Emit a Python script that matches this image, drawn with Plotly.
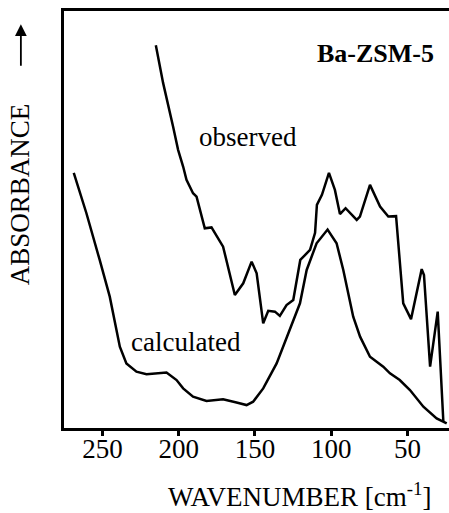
import plotly.graph_objects as go

# Data (wavenumber in cm^-1, absorbance in arbitrary units)
calc_wn = [268.8, 260.5, 251.8, 245.2, 238.6, 234.3, 227.7, 221.1, 208.0, 201.4, 197.1,
           190.6, 181.8, 170.9, 162.1, 155.5, 151.2, 144.6, 135.8, 127.1, 120.5, 116.1,
           109.6, 102.4, 96.5, 92.1, 85.6, 81.1, 74.6, 65.9, 61.5, 55.1, 48.4, 39.6,
           30.9, 24.3]
calc_ab = [61.2, 51.5, 40.3, 31.5, 19.5, 15.5, 13.5, 12.9, 13.3, 11.5, 9.5,
           7.5, 6.5, 6.9, 6.1, 5.5, 6.3, 9.5, 15.5, 23.5, 29.9, 37.9,
           44.3, 47.6, 44.3, 37.9, 26.7, 21.9, 17.1, 14.7, 13.1, 11.5, 9.1, 5.1,
           2.3, 1.1]

obs_wn = [215.0, 210.2, 203.7, 200.4, 197.1, 194.9, 190.6, 188.3, 182.9, 178.5, 170.9,
          163.2, 157.7, 152.2, 148.9, 144.6, 141.3, 136.9, 133.7, 129.3, 124.9, 120.3,
          113.9, 110.6, 109.4, 106.1, 101.5, 97.6, 94.3, 90.6, 83.3, 81.2, 74.6, 68.0,
          62.6, 57.5, 52.8, 47.7, 40.7, 39.2, 35.2, 30.2, 26.5]
obs_ab = [91.8, 82.7, 72.3, 66.7, 62.7, 59.5, 56.3, 55.5, 47.9, 48.1, 43.5,
          31.9, 34.7, 39.9, 37.1, 25.1, 28.1, 27.9, 26.9, 29.5, 30.7, 40.3,
          42.7, 46.8, 53.5, 55.9, 61.2, 57.1, 51.3, 52.7, 49.9, 50.7, 58.3, 53.1,
          50.7, 50.8, 29.9, 26.1, 38.1, 36.7, 14.7, 27.9, 1.5]

tick_vals = [250, 200, 150, 100, 50]
tick_text = ["250", "200", "150", "100", "50"]

FONT = "Liberation Serif, Times New Roman, serif"
LINE = dict(color="black", width=2.5)
FS = 27

fig = go.Figure()
fig.add_trace(go.Scatter(x=calc_wn, y=calc_ab, mode="lines", line=LINE,
                         showlegend=False, hoverinfo="skip"))
fig.add_trace(go.Scatter(x=obs_wn, y=obs_ab, mode="lines", line=LINE,
                         showlegend=False, hoverinfo="skip"))

fig.update_layout(
    width=449, height=513,
    margin=dict(l=64, r=0, t=11, b=85),
    paper_bgcolor="white", plot_bgcolor="white",
    font=dict(family=FONT, color="black", size=FS),
    xaxis=dict(range=[275.2, 22.8], showgrid=False, zeroline=False,
               showline=True, linecolor="black", linewidth=2.5, mirror=True,
               ticks="outside", ticklen=5, tickwidth=2.5, tickcolor="black",
               tickvals=tick_vals, ticktext=tick_text, ticklabelstandoff=-10,
               tickfont=dict(family=FONT, size=FS, color="black")),
    yaxis=dict(range=[0, 100], showgrid=False, zeroline=False,
               showline=True, linecolor="black", linewidth=2.5,
               showticklabels=False, ticks=""),
    annotations=[
        dict(text="<b>Ba-ZSM-5</b>", xref="paper", yref="paper", x=0.81, y=0.899,
             showarrow=False, font=dict(family=FONT, size=26, color="black"),
             xanchor="center", yanchor="middle"),
        dict(text="observed", xref="paper", yref="paper", x=0.477, y=0.697,
             showarrow=False, font=dict(family=FONT, size=FS, color="black"),
             xanchor="center", yanchor="middle"),
        dict(text="calculated", xref="paper", yref="paper", x=0.317, y=0.207,
             showarrow=False, font=dict(family=FONT, size=FS, color="black"),
             xanchor="center", yanchor="middle"),
        dict(text="ABSORBANCE", xref="paper", yref="paper", x=-0.114, y=0.561,
             textangle=-90, showarrow=False,
             font=dict(family=FONT, size=FS, color="black"),
             xanchor="center", yanchor="middle"),
        dict(text=" ", xref="paper", yref="paper", x=-0.112, y=0.968,
             ax=0, ay=58, showarrow=True, arrowhead=2, arrowsize=1.3,
             arrowwidth=1.8, arrowcolor="black"),
        dict(text="WAVENUMBER [cm<sup>-1</sup>]", xref="paper", yref="paper",
             x=0.613, y=-0.161, showarrow=False,
             font=dict(family=FONT, size=FS, color="black"),
             xanchor="center", yanchor="middle"),
    ],
)

fig.write_html("out.html")
